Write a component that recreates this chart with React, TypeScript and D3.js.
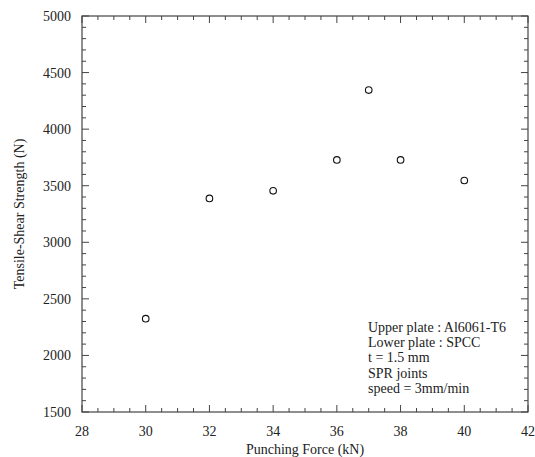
import * as d3 from "d3";
import { useEffect, useRef } from "react";

const forces = [30, 32, 34, 36, 37, 38, 40];
const strengths = [2325, 3388, 3455, 3728, 4345, 3728, 3546];
const xTicks = [28, 30, 32, 34, 36, 38, 40, 42];
const yTicks = [1500, 2000, 2500, 3000, 3500, 4000, 4500, 5000];
const notes = [
  "Upper plate : Al6061-T6",
  "Lower plate : SPCC",
  "t = 1.5 mm",
  "SPR joints",
  "speed = 3mm/min",
];

const W = 535;
const H = 457;
const m = { top: 16, right: 7, bottom: 45, left: 82 };
const FONT = "Liberation Serif";

const drawChart = (target: any) => {
  const svg = d3.select(target);
  svg.selectAll("*").remove();

  const x = d3.scaleLinear().domain([28, 42]).range([m.left, W - m.right]);
  const y = d3.scaleLinear().domain([1500, 5000]).range([H - m.bottom, m.top]);
  const [x0, x1] = x.range();
  const [y0, y1] = y.range();
  const axisCol = "#444";

  const g = svg.append("g").style("font-family", FONT);

  // minor + major ticks, pointing inward on all four sides
  const xMinor = d3.range(28, 42.01, 0.5);
  const yMinor = d3.range(1500, 5000.1, 100);
  xMinor.forEach((v) => {
    const major = Math.abs(v - Math.round(v / 2) * 2) < 1e-6;
    const len = major ? 7 : 4;
    g.append("line").attr("x1", x(v)).attr("x2", x(v)).attr("y1", y0).attr("y2", y0 - len)
      .attr("stroke", axisCol);
    g.append("line").attr("x1", x(v)).attr("x2", x(v)).attr("y1", y1).attr("y2", y1 + len)
      .attr("stroke", axisCol);
  });
  yMinor.forEach((v) => {
    const major = v % 500 === 0;
    const len = major ? 7 : 4;
    g.append("line").attr("y1", y(v)).attr("y2", y(v)).attr("x1", x0).attr("x2", x0 + len)
      .attr("stroke", axisCol);
    g.append("line").attr("y1", y(v)).attr("y2", y(v)).attr("x1", x1).attr("x2", x1 - len)
      .attr("stroke", axisCol);
  });

  g.append("rect")
    .attr("x", x0).attr("y", y1)
    .attr("width", x1 - x0).attr("height", y0 - y1)
    .attr("fill", "none").attr("stroke", axisCol).attr("stroke-width", 1.2);

  // tick labels
  g.selectAll(".xl").data(xTicks).enter().append("text")
    .attr("x", (d) => x(d)).attr("y", y0 + 24)
    .attr("text-anchor", "middle")
    .attr("font-size", 14).attr("fill", "#222")
    .text((d) => d);
  g.selectAll(".yl").data(yTicks).enter().append("text")
    .attr("x", x0 - 11).attr("y", (d) => y(d) + 5)
    .attr("text-anchor", "end")
    .attr("font-size", 14).attr("fill", "#222")
    .text((d) => d);

  // axis titles
  g.append("text")
    .attr("x", (x0 + x1) / 2).attr("y", y0 + 42)
    .attr("text-anchor", "middle")
    .attr("font-size", 14).attr("fill", "#222")
    .text("Punching Force (kN)");
  g.append("text")
    .attr("transform", `translate(24,${(y0 + y1) / 2}) rotate(-90)`)
    .attr("text-anchor", "middle")
    .attr("font-size", 14).attr("fill", "#222")
    .text("Tensile-Shear Strength (N)");

  // data
  g.selectAll(".pt").data(forces).enter().append("circle")
    .attr("cx", (d) => x(d)).attr("cy", (d, i) => y(strengths[i]))
    .attr("r", 3.3)
    .attr("fill", "white").attr("stroke", "#111").attr("stroke-width", 1.1);

  // annotation
  g.selectAll(".note").data(notes).enter().append("text")
    .attr("x", 368).attr("y", (d, i) => 332 + i * 15.2)
    .attr("font-size", 14).attr("fill", "#222")
    .text((d) => d);
};

const App = () => {
  const ref = useRef<SVGSVGElement>(null);
  useEffect(() => {
    if (ref.current) drawChart(ref.current);
  }, []);
  return (
    <svg
      ref={ref}
      width={W}
      height={H}
      style={{ position: "absolute", left: 0, top: 0, background: "white" }}
    />
  );
};

export default App;
